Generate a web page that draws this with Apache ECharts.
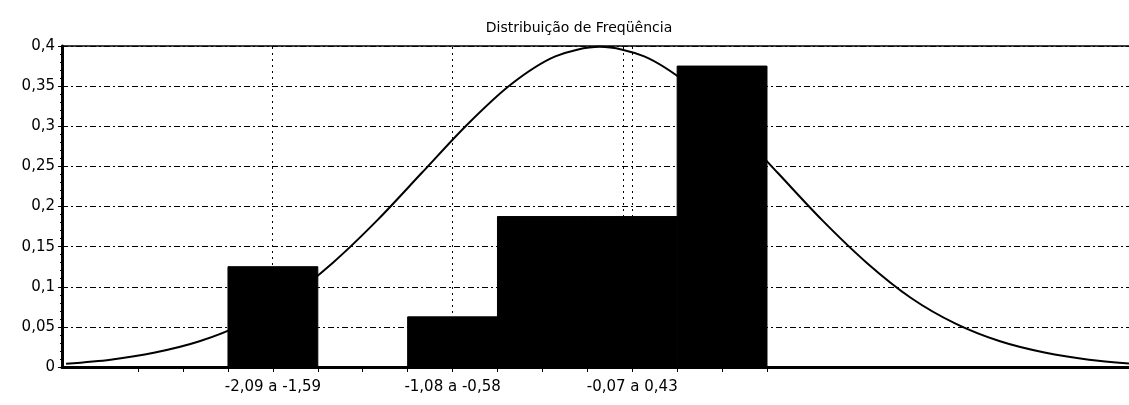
<!DOCTYPE html>
<html>
<head>
<meta charset="utf-8">
<script src="https://cdn.jsdelivr.net/npm/echarts@6/dist/echarts.min.js"></script>
<style>html,body{margin:0;padding:0;background:#fff}#c{width:1129px;height:405px}</style>
</head>
<body>
<div id="c"></div>
<script>
// Histogram bins (class limits) and relative frequencies
const binStart = [-2.09, -1.585, -1.08, -0.575, -0.07, 0.435];
const binEnd   = [-1.585, -1.08, -0.575, -0.07, 0.435, 0.94];
const freq     = [0.125, 0, 0.0625, 0.1875, 0.1875, 0.375];
// Curve points
const curveX = [-3.0,-2.75,-2.5,-2.25,-2.0,-1.75,-1.5,-1.25,-1.0,-0.75,-0.5,-0.25,0,0.25,0.5,0.75,1.0,1.25,1.5,1.75,2.0,2.25,2.5,2.75,3.0];
const curveY = [0.004,0.009,0.018,0.032,0.054,0.086,0.130,0.183,0.242,0.301,0.352,0.387,0.399,0.387,0.352,0.301,0.242,0.183,0.130,0.086,0.054,0.032,0.018,0.009,0.004];
// Axis tick positions and labels
const xTicks = [-2.5925,-2.34,-2.09,-1.8375,-1.585,-1.3325,-1.08,-0.8275,-0.575,-0.3225,-0.07,0.1825,0.435,0.6875,0.94];
const xLabelPos = [-1.8375, -0.8275, 0.1825];
const xLabelText = ['-2,09 a -1,59', '-1,08 a -0,58', '-0,07 a 0,43'];
const vLines = [-1.8375, -0.8275, 0.13, 0.1825];
const titleText = 'Distribuição de Freqüência';

const chart = echarts.init(document.getElementById('c'), null, {renderer: 'canvas'});
const font = 'DejaVu Sans, Verdana, sans-serif';
chart.setOption({
  animation: false,
  backgroundColor: '#fff',
  title: {
    text: titleText, left: 574, top: 16, textAlign: 'center',
    textStyle: {fontFamily: font, fontSize: 14, fontWeight: 'normal', color: '#000'}
  },
  grid: {left: 62, right: 0, top: 46, bottom: 38},
  xAxis: [{
    type: 'value', min: -3.023, max: 2.975,
    axisLine: {show: true, onZero: false, lineStyle: {color: '#000', width: 3}},
    axisTick: {show: true, customValues: xTicks, length: 5, lineStyle: {color: '#000', width: 1}},
    axisLabel: {
      show: true, customValues: xLabelPos, margin: 13,
      formatter: v => { let i = xLabelPos.findIndex(p => Math.abs(p - v) < 1e-6); return i >= 0 ? xLabelText[i] : ''; },
      fontFamily: font, fontSize: 15, color: '#000'
    },
    splitLine: {show: false}
  }, {
    type: 'value', min: -3.023, max: 2.975, position: 'top',
    axisLine: {show: true, onZero: false, lineStyle: {color: '#000', width: 1.5}},
    axisTick: {show: false}, axisLabel: {show: false}, splitLine: {show: false}
  }],
  yAxis: {
    type: 'value', min: 0, max: 0.4, interval: 0.05,
    axisLine: {show: true, onZero: false, lineStyle: {color: '#000', width: 3}},
    axisTick: {show: true, length: 4, lineStyle: {color: '#000'}},
    minorTick: {show: true, splitNumber: 5, length: 2, lineStyle: {color: '#000'}},
    axisLabel: {
      margin: 7, fontFamily: font, fontSize: 15, color: '#000',
      formatter: v => String(Math.round(v * 100) / 100).replace('.', ',')
    },
    splitLine: {show: true, lineStyle: {color: '#000', width: 1, type: [6, 3, 2, 3]}}
  },
  series: [{
    type: 'line', xAxisIndex: 0, smooth: 0.3, symbol: 'none', z: 2,
    data: curveX.map((x, i) => [x, curveY[i]]),
    lineStyle: {color: '#000', width: 2},
    markLine: {
      silent: true, symbol: 'none', label: {show: false},
      lineStyle: {color: '#000', width: 1, type: [2, 4]},
      data: vLines.map(p => ({xAxis: p}))
    }
  }, {
    type: 'custom', xAxisIndex: 0, z: 3,
    data: freq.map((f, i) => [binStart[i], binEnd[i], f]),
    renderItem: (params, api) => {
      const p0 = api.coord([api.value(0), api.value(2)]);
      const p1 = api.coord([api.value(1), 0]);
      return {type: 'rect', shape: {x: p0[0], y: p0[1], width: p1[0] - p0[0], height: p1[1] - p0[1]},
              style: {fill: '#000', stroke: '#000', lineWidth: 1}};
    }
  }]
});
</script>
</body>
</html>
